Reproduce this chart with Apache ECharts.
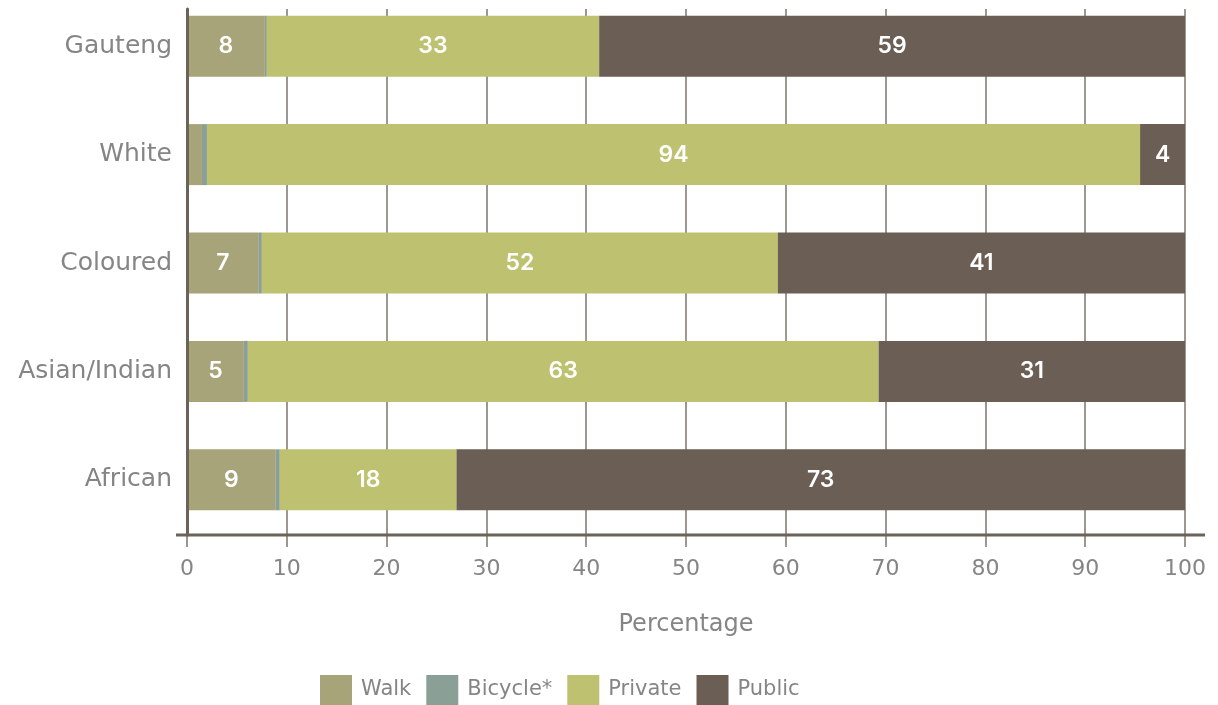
<!DOCTYPE html>
<html>
<head>
<meta charset="utf-8">
<title>Mode of travel</title>
<script src="https://cdn.jsdelivr.net/npm/echarts@6/dist/echarts.min.js"></script>
<style>
    html, body { margin: 0; padding: 0; background: #fff; }
    #main { width: 1218px; height: 705px; }
</style>
</head>
<body>
<div id="main"></div>
<script>
// 类别 (bottom -> top)
var categories = ['African', 'Asian/Indian', 'Coloured', 'White', 'Gauteng'];
var seriesNames = ['Walk', 'Bicycle*', 'Private', 'Public'];

// values (percent)
var walk    = [8.9, 5.7, 7.2, 1.5, 7.8];
var bicycle = [0.4, 0.4, 0.3, 0.5, 0.2];
var priv    = [17.7, 63.2, 51.7, 93.5, 33.3];
var pub     = [73.0, 30.7, 40.8, 4.5, 58.7];

// printed labels on the bars (null = none)
var walkLabels    = [9, 5, 7, null, 8];
var bicycleLabels = [null, null, null, null, null];
var privLabels    = [18, 63, 52, 94, 33];
var pubLabels     = [73, 31, 41, 4, 59];

var xTicks = [0, 10, 20, 30, 40, 50, 60, 70, 80, 90, 100];

var colors = ['#a8a47a', '#8aa097', '#bec270', '#6b5e55'];
var axisColor = '#6b6358';
var gridColor = '#7c756c';
var textColor = '#858585';
var fontFamily = '"DejaVu Sans", sans-serif';
var barFont = 'Inter, "Noto Sans", sans-serif';

function makeBar(name, data, labels, color) {
    return {
        name: name,
        type: 'bar',
        stack: 'total',
        xAxisIndex: 0,
        yAxisIndex: 0,
        barWidth: 61,
        itemStyle: { color: color },
        label: {
            show: true,
            position: 'inside',
            color: '#fff',
            fontSize: 23,
            fontWeight: 600,
            fontFamily: barFont,
            formatter: function(p) {
                var v = labels[p.dataIndex];
                return v == null ? '' : String(v);
            }
        },
        data: data
    };
}

var chart = echarts.init(document.getElementById('main'));
var option = {
    animation: false,
    color: colors,
    textStyle: { fontFamily: fontFamily },
    grid: [
        { left: 187, right: 33, top: -8, bottom: 171, outerBoundsMode: 'none' },  // bars
        { left: 187, right: 33, top: 9, bottom: 170, outerBoundsMode: 'none' }    // frame, gridlines, labels
    ],
    legend: {
        left: 320,
        top: 675,
        padding: 0,
        itemWidth: 32,
        itemHeight: 30,
        itemGap: 15,
        icon: 'rect',
        data: seriesNames,
        textStyle: {
            fontSize: 21,
            color: textColor,
            padding: [0, 0, 0, 4]
        }
    },
    xAxis: [{
        gridIndex: 0,
        type: 'value',
        min: 0,
        max: 100,
        interval: 10,
        show: false
    }, {
        gridIndex: 1,
        type: 'value',
        min: xTicks[0],
        max: xTicks[xTicks.length - 1],
        interval: 10,
        name: 'Percentage',
        nameLocation: 'middle',
        nameGap: 78,
        nameTextStyle: { fontSize: 24, color: textColor },
        axisLine: { show: false },
        axisTick: {
            show: true,
            inside: false,
            length: 12,
            lineStyle: { color: gridColor, width: 1.5 }
        },
        axisLabel: {
            margin: 23,
            fontSize: 22,
            color: textColor
        },
        splitLine: {
            show: true,
            lineStyle: { color: gridColor, width: 1.5 }
        }
    }],
    yAxis: [{
        gridIndex: 0,
        type: 'category',
        data: categories,
        axisLine: { show: false },
        axisTick: { show: false },
        axisLabel: {
            margin: 15,
            fontSize: 25,
            color: textColor
        }
    }, {
        gridIndex: 1,
        type: 'value',
        z: 3,
        axisLine: { show: true, lineStyle: { color: axisColor, width: 3 } },
        axisTick: { show: false },
        axisLabel: { show: false },
        splitLine: { show: false }
    }],
    graphic: [{
        type: 'line',
        z: 100,
        shape: { x1: 176, y1: 535, x2: 1205, y2: 535 },
        style: { stroke: axisColor, lineWidth: 3 }
    }],
    series: [
        makeBar(seriesNames[0], walk, walkLabels, colors[0]),
        makeBar(seriesNames[1], bicycle, bicycleLabels, colors[1]),
        makeBar(seriesNames[2], priv, privLabels, colors[2]),
        makeBar(seriesNames[3], pub, pubLabels, colors[3])
    ]
};
chart.setOption(option);
</script>
</body>
</html>
